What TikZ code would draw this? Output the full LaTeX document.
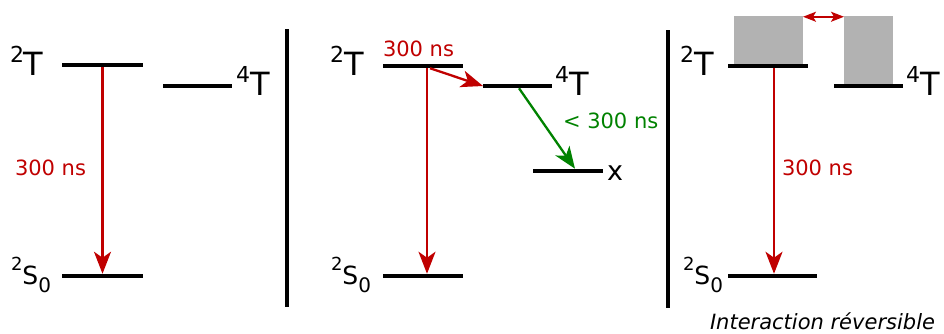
\documentclass[tikz,border=0pt]{standalone}
\usepackage{fontspec}
\setmainfont{DejaVu Sans}
\usetikzlibrary{arrows.meta}
\definecolor{myred}{RGB}{192,0,0}
\definecolor{mygreen}{RGB}{0,130,0}
\definecolor{blk}{RGB}{178,178,178}
\newcommand\labT[2]{{\fontsize{22}{22}\selectfont\raisebox{13pt}{#1}}{\fontsize{32}{32}\selectfont #2}}
\newcommand\labS{{\fontsize{18}{18}\selectfont\raisebox{14pt}{2}}{\fontsize{25}{25}\selectfont S}{\fontsize{20}{20}\selectfont\raisebox{-8pt}{0}}}
\newcommand\tsz{\fontsize{21}{21}\selectfont}
\tikzset{
  lvl/.style={fill=black, inner sep=0pt, outer sep=0pt, minimum height=4.5pt},
  lab/.style={anchor=base west, inner sep=0pt, outer sep=0pt},
  tlab/.style={anchor=base west, inner sep=0pt, outer sep=0pt, font=\tsz},
  sepline/.style={line width=3.5pt},
  redarr/.style={draw=myred, line width=2.3pt, -{Stealth[length=22pt,width=17pt,inset=6pt]}},
  greenarr/.style={draw=mygreen, line width=2.3pt, -{Stealth[length=22pt,width=17pt,inset=6pt]}},
  dblarr/.style={draw=myred, line width=1.6pt, {Stealth[length=13pt,width=10pt,inset=3pt]}-{Stealth[length=13pt,width=10pt,inset=3pt]}},
  grayblk/.style={fill=blk, draw=none, inner sep=0pt, outer sep=0pt, anchor=south}
}
\begin{document}
\begin{tikzpicture}[x=1pt,y=-1pt]
\useasboundingbox (0,0) rectangle (944,333);
% separators
\draw[sepline] (287,29) coordinate (s1a) -- (287,307) coordinate (s1b);
\draw[sepline] (668,30) coordinate (s2a) -- (668,308) coordinate (s2b);
% ---- panel 1
\node[lvl, minimum width=81pt] (p1T) at (102.5,65) {};
\node[lvl, minimum width=69pt] (p1Q) at (197.5,86) {};
\node[lvl, minimum width=81pt] (p1S) at (102.5,276) {};
\node[lab] (l1T) at (10,75) {\labT{2}{T}};
\node[lab] (l1Q) at (236,95) {\labT{4}{T}};
\node[lab] (l1S) at (11,284) {\labS};
\draw[redarr] (p1T.south) -- (p1S.north);
\node[tlab, text=myred] (t1) at (15,175) {300 ns};
% ---- panel 2
\node[lvl, minimum width=80pt] (p2T) at (423,66) {};
\node[lvl, minimum width=69pt] (p2Q) at (517.5,86) {};
\node[lvl, minimum width=70pt] (p2X) at (568,171) {};
\node[lvl, minimum width=80pt] (p2S) at (423,276) {};
\node[lab] (l2T) at (330,75) {\labT{2}{T}};
\node[lab] (l2Q) at (555,95) {\labT{4}{T}};
\node[lab, font=\fontsize{27}{27}\selectfont] (l2X) at (607,180) {x};
\node[lab] (l2S) at (331,284) {\labS};
\draw[redarr] ([xshift=4pt]p2T.south) coordinate (a2) -- (a2 |- p2S.north);
\draw[redarr] ([xshift=7pt]p2T.south) -- (p2Q.west);
\draw[greenarr] ([xshift=1.5pt]p2Q.south) -- ([xshift=7pt]p2X.north);
\node[tlab, text=myred] (t2) at (383,56) {300 ns};
\node[tlab, text=mygreen] (t3) at (563,128) {< 300 ns};
% ---- panel 3
\node[lvl, minimum width=80pt] (p3T) at (768,66) {};
\node[lvl, minimum width=69pt] (p3Q) at (868.5,86) {};
\node[lvl, minimum width=89pt] (p3S) at (772.5,276) {};
\node[grayblk, minimum width=69pt, minimum height=48pt] (g1) at ([xshift=0.5pt]p3T.north) {};
\node[grayblk, minimum width=49pt, minimum height=68pt] (g2) at (p3Q.north) {};
\draw[dblarr] ([yshift=-1pt]g1.north east) -- ([yshift=-1pt]g2.north west);
\node[lab] (l3T) at (680,75) {\labT{2}{T}};
\node[lab] (l3Q) at (906,95) {\labT{4}{T}};
\node[lab] (l3S) at (683,284) {\labS};
\draw[redarr] ([xshift=6pt]p3T.south) coordinate (a3) -- (a3 |- p3S.north);
\node[tlab, text=myred] (t4) at (782,175) {300 ns};
\node[tlab, font=\tsz\itshape] (cap) at (710,329) {Interaction réversible};
\end{tikzpicture}
\end{document}
